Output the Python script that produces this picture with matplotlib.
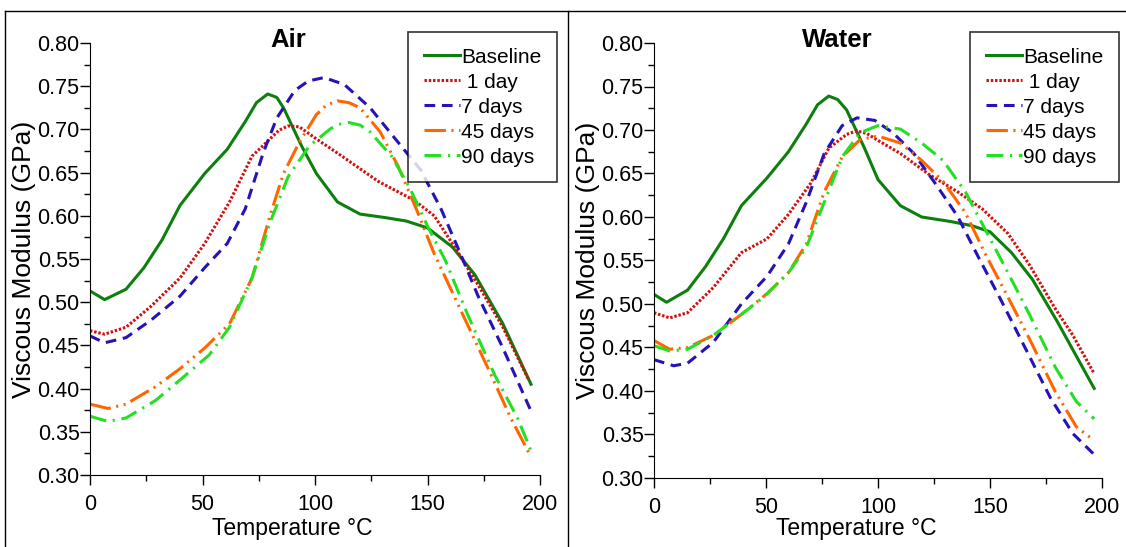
import numpy as np
import matplotlib.pyplot as plt
from matplotlib.lines import Line2D
from matplotlib.ticker import MultipleLocator

plt.rcParams['font.family'] = ['Liberation Sans', 'DejaVu Sans']

# Air ---------------------------------------------------------------
air_base_T = [0, 6.5, 16, 24, 32, 40, 51, 61, 69, 74, 79, 83, 86, 94, 100.6, 110, 120, 131, 140.5, 150, 161, 171, 183.5, 196]
air_base_V = [0.513, 0.503, 0.515, 0.54, 0.572, 0.612, 0.649, 0.677, 0.709, 0.731, 0.741, 0.737, 0.725, 0.681, 0.649, 0.616, 0.602, 0.598, 0.594, 0.586, 0.564, 0.532, 0.475, 0.405]

air_1d_T = [0, 6.5, 16, 27, 40, 51, 62, 72, 80, 84, 88, 93, 100.6, 112, 128, 144, 153, 163, 172.5, 183.5, 195]
air_1d_V = [0.467, 0.463, 0.471, 0.495, 0.528, 0.568, 0.616, 0.669, 0.689, 0.699, 0.704, 0.703, 0.689, 0.669, 0.64, 0.618, 0.60, 0.56, 0.52, 0.471, 0.41]

air_7d_T = [0, 6.5, 16, 27, 40, 51, 61, 69, 77, 83, 91, 97, 104, 113, 124.5, 135.7, 147, 156, 164, 172.5, 183.5, 196]
air_7d_V = [0.461, 0.453, 0.459, 0.479, 0.507, 0.54, 0.568, 0.608, 0.673, 0.713, 0.745, 0.756, 0.760, 0.752, 0.725, 0.689, 0.653, 0.608, 0.56, 0.507, 0.447, 0.374]

air_45d_T = [0, 8, 16, 29, 40, 51, 62, 72, 80, 86, 93, 100.6, 105, 110, 115, 120, 129, 137, 145, 153, 164, 177, 187, 195]
air_45d_V = [0.382, 0.377, 0.382, 0.402, 0.423, 0.447, 0.475, 0.528, 0.60, 0.649, 0.685, 0.717, 0.728, 0.733, 0.731, 0.725, 0.697, 0.657, 0.608, 0.556, 0.495, 0.423, 0.366, 0.326]

air_90d_T = [0, 8, 16, 29, 40, 53, 62, 72, 80, 88, 97.5, 107, 111, 115, 120, 124.5, 134, 142, 150, 158, 167.6, 180, 190, 196]
air_90d_V = [0.368, 0.362, 0.366, 0.386, 0.41, 0.439, 0.471, 0.528, 0.592, 0.645, 0.681, 0.701, 0.706, 0.708, 0.705, 0.697, 0.669, 0.633, 0.588, 0.548, 0.487, 0.415, 0.366, 0.328]

# Water -------------------------------------------------------------
wat_base_T = [0, 5.6, 15, 23, 31, 39, 50.5, 60, 68, 73, 78, 82, 86, 94, 100, 110, 119.5, 132, 142, 150, 159.6, 169, 180, 196.5]
wat_base_V = [0.511, 0.502, 0.516, 0.543, 0.575, 0.613, 0.645, 0.675, 0.707, 0.729, 0.739, 0.735, 0.723, 0.679, 0.643, 0.613, 0.60, 0.595, 0.59, 0.583, 0.559, 0.528, 0.48, 0.403]

wat_1d_T = [0, 7, 15, 26.5, 39, 50.5, 60, 70, 78, 86, 90.6, 95, 100, 110, 122.7, 135.5, 146.7, 158, 167.6, 178.8, 187, 196.5]
wat_1d_V = [0.49, 0.484, 0.49, 0.519, 0.559, 0.575, 0.603, 0.639, 0.679, 0.695, 0.699, 0.696, 0.688, 0.673, 0.649, 0.629, 0.609, 0.581, 0.545, 0.496, 0.464, 0.42]

wat_7d_T = [0, 8.8, 15, 26.5, 39, 50.5, 60, 68, 76, 84, 90.6, 98.6, 106.6, 116, 126, 135.5, 145, 155, 166, 177, 187, 196.5]
wat_7d_V = [0.436, 0.429, 0.432, 0.456, 0.50, 0.532, 0.569, 0.617, 0.673, 0.705, 0.714, 0.711, 0.697, 0.673, 0.637, 0.601, 0.553, 0.504, 0.448, 0.392, 0.351, 0.327]

wat_45d_T = [0, 7, 15, 26.5, 39, 50.5, 60, 68, 76, 84, 92, 100, 110, 119.5, 129, 139, 148, 158, 167.6, 179, 188.5, 196.5]
wat_45d_V = [0.458, 0.448, 0.45, 0.464, 0.488, 0.512, 0.536, 0.569, 0.629, 0.669, 0.689, 0.693, 0.685, 0.665, 0.641, 0.605, 0.557, 0.508, 0.46, 0.40, 0.359, 0.343]

wat_90d_T = [0, 7, 15, 26.5, 39, 49, 60, 68, 76, 84, 92, 100, 110, 119.5, 129, 139, 148, 158, 167.6, 179, 188.5, 196.5]
wat_90d_V = [0.452, 0.446, 0.448, 0.464, 0.488, 0.508, 0.536, 0.565, 0.617, 0.669, 0.697, 0.705, 0.701, 0.685, 0.665, 0.629, 0.585, 0.536, 0.488, 0.428, 0.388, 0.368]

labels = ['Baseline', ' 1 day', '7 days', '45 days', '90 days']
colors = ['#0c7f0c', '#d21010', '#2414b8', '#ff6600', '#22e022']
styles = ['-', (0, (0.8, 0.6)), (0, (3.5, 2.2)), (0, (7, 1.8, 0.7, 1.8, 0.7, 1.8)), (0, (5.5, 2.2, 0.7, 2.2))]

air = [(air_base_T, air_base_V), (air_1d_T, air_1d_V), (air_7d_T, air_7d_V),
       (air_45d_T, air_45d_V), (air_90d_T, air_90d_V)]
water = [(wat_base_T, wat_base_V), (wat_1d_T, wat_1d_V), (wat_7d_T, wat_7d_V),
         (wat_45d_T, wat_45d_V), (wat_90d_T, wat_90d_V)]

W, H = 1126, 547
fig = plt.figure(figsize=(W / 100, H / 100), dpi=100)

# cadres autour des deux panneaux
fig.add_artist(Line2D([5 / W, 5 / W], [0, 1 - 11 / H], color='black', lw=1))
fig.add_artist(Line2D([5 / W, 1], [1 - 11 / H, 1 - 11 / H], color='black', lw=1))
fig.add_artist(Line2D([568 / W, 568 / W], [0, 1 - 11 / H], color='black', lw=1))

# (x0, x1, y_bas, titre, données, x titre, x légende, x label T)
panels = [(90, 540, 475, 'Air', air, 288, 557, 292),
          (654, 1102, 478, 'Water', water, 837, 1119, 856)]
for x0, x1, yb, title, data, tx, lx, xl in panels:
    ax = fig.add_axes([x0 / W, 1 - yb / H, (x1 - x0) / W, (yb - 43) / H])
    for (T, V), lab, c, ls in zip(data, labels, colors, styles):
        ax.plot(T, V, color=c, linestyle=ls, lw=2.2, label=lab, solid_joinstyle='round')
    ax.set_xlim(0, 200)
    ax.set_ylim(0.30, 0.80)
    ax.xaxis.set_major_locator(MultipleLocator(50))
    ax.xaxis.set_minor_locator(MultipleLocator(25))
    ax.yaxis.set_major_locator(MultipleLocator(0.05))
    ax.yaxis.set_minor_locator(MultipleLocator(0.025))
    ax.yaxis.set_major_formatter(lambda v, p: f'{v:.2f}')
    ax.spines['top'].set_visible(False)
    ax.spines['right'].set_visible(False)
    ax.tick_params(axis='both', which='major', length=7, width=1, labelsize=15.5)
    ax.tick_params(axis='x', which='major', pad=7)
    ax.tick_params(axis='y', which='major', pad=0.5)
    ax.tick_params(axis='both', which='minor', length=4, width=1)
    ax.set_xlabel('Temperature °C', fontsize=16.5)
    ax.xaxis.set_label_coords((xl - x0) / (x1 - x0), -(529 - yb) / (yb - 43))
    ax.xaxis.label.set_va('center')
    ax.set_ylabel('Viscous Modulus (GPa)', fontsize=19)
    ax.yaxis.set_label_coords(-66 / (x1 - x0), 0.5)
    ax.yaxis.label.set_va('center')
    fig.text(tx / W, 1 - 40 / H, title, fontsize=18.5, fontweight='bold', ha='center', va='center')
    leg = ax.legend(loc='upper right', bbox_to_anchor=(lx / W, 1 - 32 / H), bbox_transform=fig.transFigure,
                    fontsize=15, borderaxespad=0,
                    frameon=True, fancybox=False, edgecolor='black', handlelength=1.75,
                    handletextpad=0.05, labelspacing=0.29, borderpad=0.75)
    leg.get_frame().set_linewidth(1.2)

plt.savefig('out.png', dpi=100)
